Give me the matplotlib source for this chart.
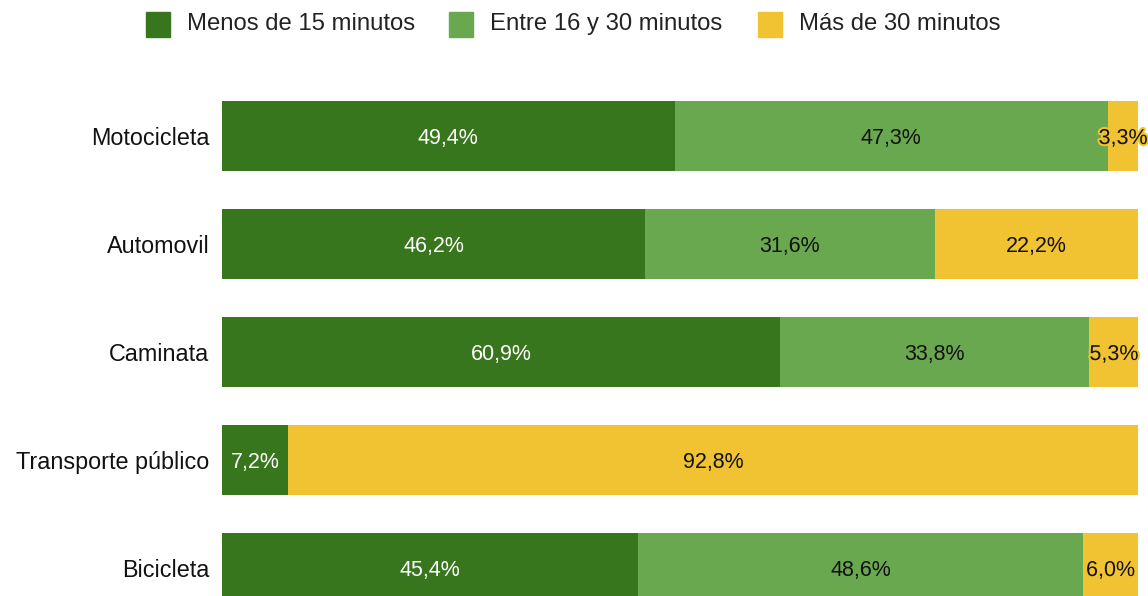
import matplotlib.pyplot as plt
import matplotlib.patheffects as pe
from matplotlib.patches import Rectangle

plt.rcParams['font.family'] = ['Liberation Sans', 'DejaVu Sans']

categorias = ['Motocicleta', 'Automovil', 'Caminata', 'Transporte público', 'Bicicleta']
series = ['Menos de 15 minutos', 'Entre 16 y 30 minutos', 'Más de 30 minutos']
menos_15 = [49.4, 46.2, 60.9, 7.2, 45.4]
entre_16_30 = [47.3, 31.6, 33.8, 0.0, 48.6]
mas_30 = [3.3, 22.2, 5.3, 92.8, 6.0]

colores = ['#38761d', '#6aa84f', '#f1c232']
color_texto = ['white', '#111111', '#111111']

fig = plt.figure(figsize=(11.48, 5.96), dpi=100)
ax = fig.add_axes([222 / 1148, 0, 916 / 1148, 536 / 596])

y = list(range(len(categorias)))
izq = [0.0] * len(categorias)
for vals, col, tc in zip([menos_15, entre_16_30, mas_30], colores, color_texto):
    ax.barh(y, vals, left=izq, height=70 / 108, color=col, edgecolor='none')
    for i, v in enumerate(vals):
        if v <= 0:
            continue
        t = ax.text(izq[i] + v / 2, y[i], f'{v:.1f}%'.replace('.', ','),
                    ha='center', va='center_baseline', color=tc, fontsize=15.5)
        if v < 8 and tc != 'white':
            t.set_path_effects([pe.withStroke(linewidth=3, foreground=col)])
    izq = [a + b for a, b in zip(izq, vals)]

ax.set_xlim(0, 100)
ax.set_ylim((596 - 136) / 108, (60 - 136) / 108)
ax.set_yticks(y)
ax.set_yticklabels(categorias, fontsize=16.8, color='#111111')
ax.tick_params(axis='y', length=0, pad=9)
ax.set_xticks([])
for s in ax.spines.values():
    s.set_visible(False)

# leyenda
pos_cuadro = [146, 449, 758]
for px, nombre, col in zip(pos_cuadro, series, colores):
    fig.patches.append(Rectangle((px / 1148, 1 - 37 / 596), 24 / 1148, 25 / 596,
                                 transform=fig.transFigure, color=col))
    fig.text((px + 41) / 1148, 1 - 24 / 596, nombre, ha='left', va='center',
             fontsize=17.2, color='#222222')

fig.savefig('out.png', dpi=100)
